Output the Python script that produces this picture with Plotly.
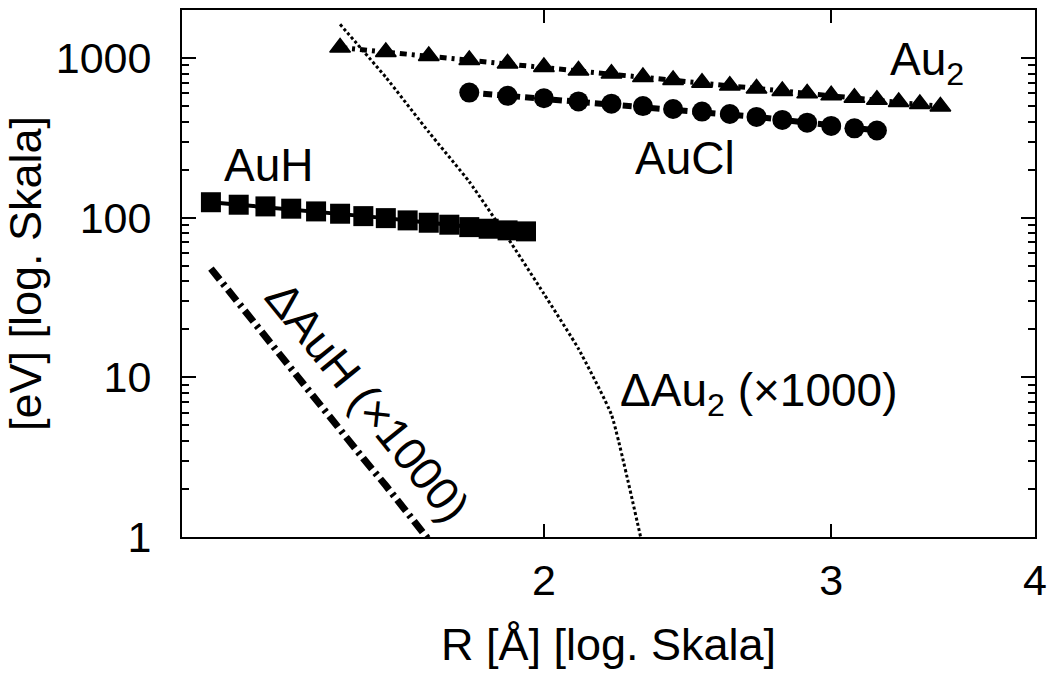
import numpy as np
import plotly.graph_objects as go

# Bond-length grids (Å)
r_auh = [1.25, 1.30, 1.35, 1.40, 1.45, 1.50, 1.55, 1.60, 1.65, 1.70, 1.75, 1.80, 1.85, 1.90, 1.95]
r_au2 = [1.5, 1.6, 1.7, 1.8, 1.9, 2.0, 2.1, 2.2, 2.3, 2.4, 2.5, 2.6, 2.7, 2.8, 2.9, 3.0, 3.1, 3.2, 3.3, 3.4, 3.5]
r_aucl = [1.8, 1.9, 2.0, 2.1, 2.2, 2.3, 2.4, 2.5, 2.6, 2.7, 2.8, 2.9, 3.0, 3.1, 3.2]
r_dauh = [1.25, 1.30, 1.35, 1.40, 1.45, 1.50, 1.55, 1.60, 1.65, 1.70]
r_dau2 = [1.5, 1.6, 1.7, 1.8, 1.9, 2.0, 2.1, 2.2, 2.3]

# Energies (eV)
e_auh = [125, 120.6, 117.7, 113.9, 109.5, 105.9, 102.3, 99.4, 96.2, 93.0, 90.4, 87.3, 85.3, 83.3, 82.1]
e_au2 = [1163, 1092, 1031, 973, 924, 880, 835, 799, 760, 730, 700, 672, 645, 622, 601, 584, 565, 548, 530, 515, 498]
e_aucl = [608, 580, 560, 535, 518, 500, 480, 462, 446, 428, 410, 394, 376, 363, 352]
e_dauh = [48, 29, 18, 11.4, 7.3, 4.7, 3.1, 2.1, 1.4, 0.96]
e_dau2 = [1626, 758, 344, 168, 75, 33.4, 15.1, 5.84, 0.86]

x_tickvals = [2, 3, 4]
x_ticktext = ["2", "3", "4"]
y_tickvals = [1, 10, 100, 1000]
y_ticktext = ["1", "10", "100", "1000"]
y_minor = [m * 10 ** d for d in range(0, 4) for m in range(2, 10)]

FONT = "Liberation Sans, Arial, Helvetica, sans-serif"

fig = go.Figure()

fig.add_trace(go.Scatter(
    x=r_dau2, y=e_dau2, mode="lines", line_shape="spline",
    line=dict(color="black", width=3, dash="3px,2.5px", smoothing=0.4),
    showlegend=False))

fig.add_trace(go.Scatter(
    x=r_dauh, y=e_dauh, mode="lines",
    line=dict(color="black", width=7, dash="14px,5px,3px,5px"),
    showlegend=False))

fig.add_trace(go.Scatter(
    x=r_auh, y=e_auh, mode="lines+markers",
    line=dict(color="black", width=4),
    marker=dict(symbol="square", size=20, color="black"),
    showlegend=False))

fig.add_trace(go.Scatter(
    x=r_au2, y=e_au2, mode="lines+markers",
    line=dict(color="black", width=5, dash="7px,5px,3px,5px"),
    marker=dict(symbol="triangle-up", size=18, color="black",
                line=dict(color="black", width=1.5)),
    showlegend=False))

fig.add_trace(go.Scatter(
    x=r_aucl, y=e_aucl, mode="lines+markers",
    line=dict(color="black", width=6, dash="9px,5px"),
    marker=dict(symbol="circle", size=20, color="black"),
    showlegend=False))

label_font = dict(family=FONT, size=46, color="black")
annotations = [
    dict(text="AuH", x=0.1012, y=0.706),
    dict(text="AuCl", x=0.5895, y=0.7201),
    dict(text="Au<sub>2</sub>", x=0.8735, y=0.9000),
    dict(text="ΔAu<sub>2</sub> (×1000)", x=0.6760, y=0.2714),
    dict(text="ΔAuH (×1000)", x=0.2180, y=0.2560, textangle=51),
]
for a in annotations:
    a.update(xref="paper", yref="paper", showarrow=False,
             xanchor="center", yanchor="middle", font=label_font)

fig.update_layout(
    width=1047, height=677,
    margin=dict(l=182, r=12, t=10, b=140),
    paper_bgcolor="white", plot_bgcolor="white",
    font=dict(family=FONT, size=43, color="black"),
    annotations=annotations,
)

fig.update_xaxes(
    type="log", range=[np.log10(1.2), np.log10(4)],
    tickvals=x_tickvals, ticktext=x_ticktext,
    ticks="inside", ticklen=13, tickwidth=2, tickcolor="black",
    showline=True, linewidth=2, linecolor="black", mirror="ticks",
    showgrid=False, zeroline=False,
    ticklabelstandoff=4,
    tickfont=dict(family=FONT, size=43),
    title=dict(text="R [Å] [log. Skala]", font=dict(family=FONT, size=45), standoff=26),
    automargin=False,
)

fig.update_yaxes(
    type="log", range=[0, np.log10(2000)],
    tickvals=y_tickvals, ticktext=y_ticktext,
    ticks="inside", ticklen=14, tickwidth=2, tickcolor="black",
    minor=dict(tickvals=y_minor, ticks="inside", ticklen=7, tickwidth=2,
               tickcolor="black", showgrid=False),
    showline=True, linewidth=2, linecolor="black", mirror="ticks",
    showgrid=False, zeroline=False,
    ticklabelstandoff=20,
    tickfont=dict(family=FONT, size=43),
    title=dict(text="[eV] [log. Skala]", font=dict(family=FONT, size=45), standoff=0),
    automargin=False,
)

fig.write_html("out.html")
